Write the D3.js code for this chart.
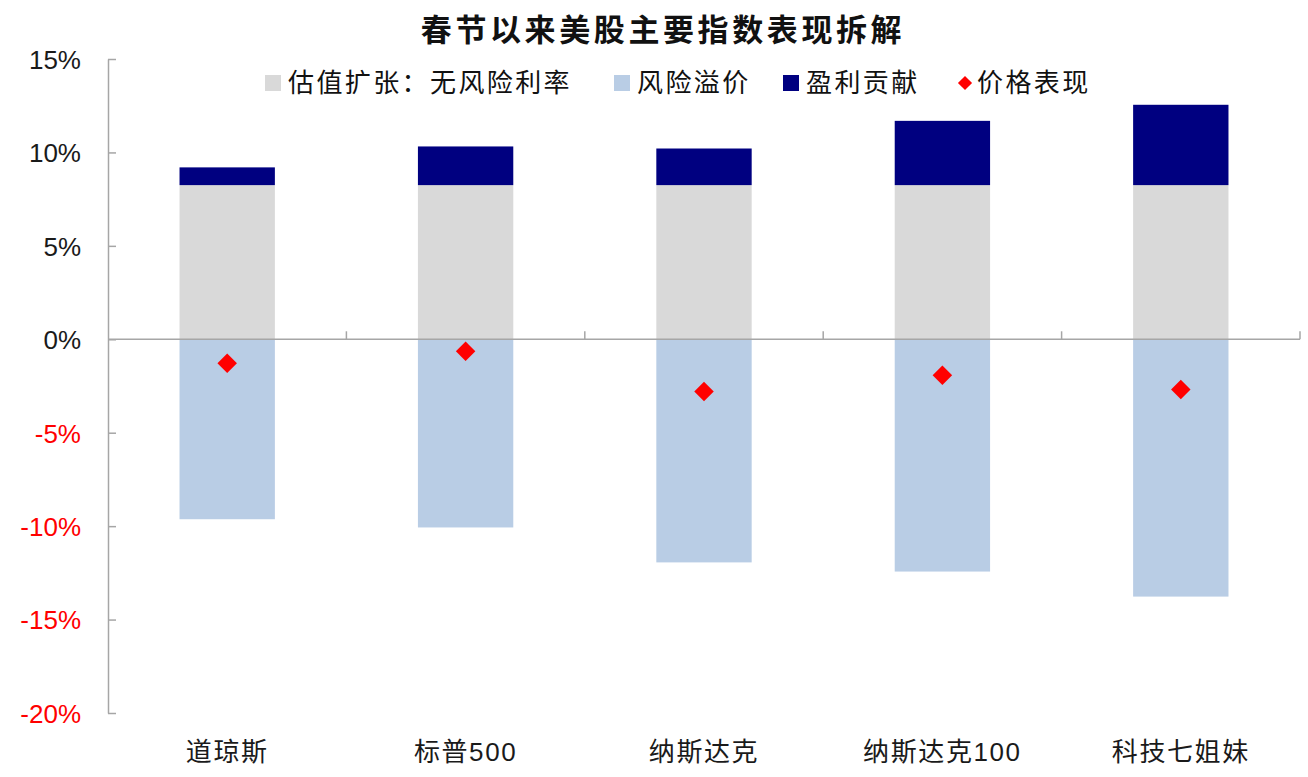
<!doctype html>
<html>
<head>
  <meta charset="utf-8">
  <script src="https://cdnjs.cloudflare.com/ajax/libs/d3/7.8.5/d3.min.js"></script>
  <style>
    body { margin: 0; background: #fff; }
    svg { font-family: "Liberation Sans", Arial, "Noto Sans CJK SC", sans-serif; }
  </style>
</head>
<body>
  <svg id="chart" width="1308" height="777"></svg>
  <script>
    // data (percent)
    var categories = ["道琼斯", "标普500", "纳斯达克", "纳斯达克100", "科技七姐妹"];
    var riskFree = [8.25, 8.25, 8.25, 8.25, 8.25];          // 估值扩张：无风险利率
    var riskPremium = [-9.63, -10.07, -11.94, -12.43, -13.77]; // 风险溢价
    var earnings = [0.95, 2.07, 1.96, 3.44, 4.3];              // 盈利贡献
    var price = [-1.28, -0.64, -2.79, -1.93, -2.69];           // 价格表现
    var yTicks = [15, 10, 5, 0, -5, -10, -15, -20];
    var legendLabels = ["估值扩张：无风险利率", "风险溢价", "盈利贡献", "价格表现"];
    var legendColors = ["#D9D9D9", "#B9CDE5", "#000080", "#FF0000"];

    var svg = d3.select("#chart");
    var x = d3.scaleBand().domain(categories).range([108, 1300]).padding(0);
    var y = d3.scaleLinear().domain([-20, 15]).range([713, 59]);
    var barW = x.bandwidth() * 0.4;
    var bx = d => x(d) + (x.bandwidth() - barW) / 2;

    // title
    svg.append("text")
      .attr("x", 663).attr("y", 41)
      .attr("text-anchor", "middle")
      .style("font-size", "31px").style("font-weight", "bold")
      .style("letter-spacing", "3.6px")
      .attr("fill", "#111")
      .text("春节以来美股主要指数表现拆解");

    // bars
    svg.append("g").selectAll("rect").data(categories).enter().append("rect")
      .attr("x", bx).attr("width", barW)
      .attr("y", (d, i) => y(riskFree[i]))
      .attr("height", (d, i) => y(0) - y(riskFree[i]))
      .attr("fill", legendColors[0]);
    svg.append("g").selectAll("rect").data(categories).enter().append("rect")
      .attr("x", bx).attr("width", barW)
      .attr("y", (d, i) => y(riskFree[i] + earnings[i]))
      .attr("height", (d, i) => y(riskFree[i]) - y(riskFree[i] + earnings[i]))
      .attr("fill", legendColors[2]);
    svg.append("g").selectAll("rect").data(categories).enter().append("rect")
      .attr("x", bx).attr("width", barW)
      .attr("y", y(0))
      .attr("height", (d, i) => y(riskPremium[i]) - y(0))
      .attr("fill", legendColors[1]);

    // y axis
    var yAxis = d3.axisLeft(y).tickValues(yTicks)
      .tickFormat(d => d + "%").tickSizeInner(-8).tickSizeOuter(0).tickPadding(27);
    var yg = svg.append("g").attr("transform", "translate(108,0)").call(yAxis);
    yg.selectAll("line, path").attr("stroke", "#A6A6A6").attr("stroke-width", 1.5);
    yg.selectAll("text")
      .style("font-size", "26px")
      .attr("font-family", null)
      .attr("dy", "0.36em")
      .attr("fill", d => d < 0 ? "#FF0000" : "#1a1a1a");

    // zero line with category ticks
    var zg = svg.append("g");
    zg.append("line")
      .attr("x1", 108).attr("x2", 1300).attr("y1", y(0)).attr("y2", y(0))
      .attr("stroke", "#A6A6A6").attr("stroke-width", 1.5);
    zg.selectAll("line.tk").data(categories).enter().append("line")
      .attr("class", "tk")
      .attr("x1", d => x(d) + x.bandwidth()).attr("x2", d => x(d) + x.bandwidth())
      .attr("y1", y(0)).attr("y2", y(0) - 8)
      .attr("stroke", "#A6A6A6").attr("stroke-width", 1.5);

    // category labels
    svg.append("g").selectAll("text").data(categories).enter().append("text")
      .attr("x", d => x(d) + x.bandwidth() / 2).attr("y", 761)
      .attr("text-anchor", "middle")
      .style("font-size", "26px").style("letter-spacing", "1.6px")
      .attr("fill", "#1a1a1a")
      .text(d => d);

    // price diamonds
    svg.append("g").selectAll("path").data(categories).enter().append("path")
      .attr("d", d3.symbol(d3.symbolSquare, 190))
      .attr("transform", (d, i) => "translate(" + (x(d) + x.bandwidth() / 2) + "," + y(price[i]) + ") rotate(45)")
      .attr("fill", legendColors[3]);

    // legend
    var legendX = [265, 614, 783, 957];
    var lg = svg.append("g").selectAll("g").data(legendLabels).enter().append("g")
      .attr("transform", (d, i) => "translate(" + legendX[i] + ",83)");
    lg.filter((d, i) => i < 3).append("rect")
      .attr("x", 0).attr("y", -8).attr("width", 16).attr("height", 16)
      .attr("fill", (d, i) => legendColors[i]);
    lg.filter((d, i) => i === 3).append("path")
      .attr("d", d3.symbol(d3.symbolSquare, 100))
      .attr("transform", "translate(8,0) rotate(45)")
      .attr("fill", legendColors[3]);
    lg.append("text")
      .attr("x", (d, i) => i === 3 ? 20 : 23).attr("y", 9)
      .style("font-size", "26px").style("letter-spacing", "2.4px")
      .attr("fill", "#111")
      .text(d => d);
  </script>
</body>
</html>
